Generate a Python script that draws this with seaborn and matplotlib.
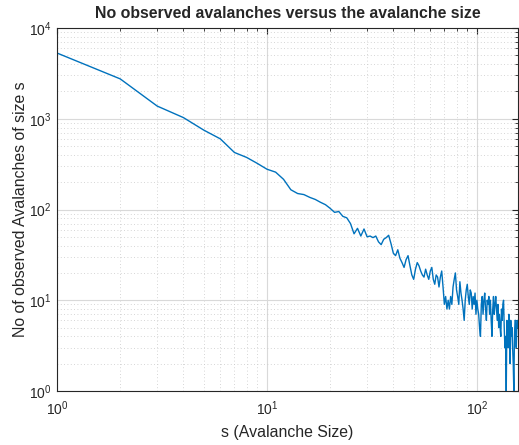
import numpy as np
import pandas as pd
import matplotlib
matplotlib.use("Agg")
import matplotlib.pyplot as plt
import seaborn as sns

# avalanche sizes and observed counts
sizes = list(range(1, 158))
counts = [
    5300, 2750, 1380, 1030, 750, 600, 425, 375, 322, 278,
    258, 215, 165, 150, 146, 136, 129, 120, 113, 103,
    93, 95, 84, 81, 70, 54, 62, 51, 61, 50,
    51, 49, 51, 44, 41, 47, 49, 52, 42, 33,
    31, 36, 29, 26, 23, 28, 31, 24, 19, 17,
    22, 26, 24, 21, 19, 18, 22, 19, 17, 21,
    23, 17, 15, 19, 18, 14, 18, 21, 14, 9,
    11, 8, 10, 8, 11, 9, 14, 17, 20, 13,
    11, 9, 16, 12, 10, 8, 6, 10, 13, 15,
    11, 9, 13, 12, 8, 11, 9, 12, 7, 10,
    8, 7, 5, 4, 9, 11, 7, 10, 12, 8,
    6, 10, 9, 11, 7, 10, 6, 4, 8, 11,
    7, 9, 11, 8, 6, 9, 5, 7, 5, 4,
    8, 6, 9, 10, 5, 3, 4, 1, 6, 4,
    3, 7, 5, 2, 6, 4, 5, 3, 2, 1,
    4, 6, 6, 3, 5, 6, 5,
]

df = pd.DataFrame({"s": sizes, "count": counts})

sns.set_style("white")
plt.rcParams["font.family"] = ["Liberation Sans", "DejaVu Sans"]

fig = plt.figure(figsize=(5.19, 4.45), dpi=100)
ax = fig.add_axes([57 / 519, 1 - 391 / 445, 461 / 519, 363 / 445])

sns.lineplot(data=df, x="s", y="count", color="#0072BD", linewidth=1.0, ax=ax)

ax.set_xscale("log")
ax.set_yscale("log")
ax.set_xlim(1, 157)
ax.set_ylim(1, 1e4)
ax.set_yticks([1, 10, 100, 1000, 10000])
ax.set_xticks([1, 10, 100])

ax.set_title("No observed avalanches versus the avalanche size",
             fontsize=11.4, fontweight="bold", pad=7)
ax.set_xlabel("s (Avalanche Size)", fontsize=11.4, color="#262626", labelpad=5)
ax.set_ylabel("No of observed Avalanches of size s", fontsize=11.4,
              color="#262626", labelpad=0.5)

# MATLAB-like grid and ticks
ax.grid(True, which="major", color="#d9d9d9", linewidth=0.8, linestyle="-")
ax.grid(True, which="minor", color="#c8c8c8", linewidth=0.6, linestyle=(0, (1, 3)))
ax.tick_params(which="both", direction="in", top=True, right=True,
               colors="#262626", labelsize=10)
ax.tick_params(which="major", length=4)
ax.tick_params(which="minor", length=2)
ax.tick_params(axis="x", which="major", pad=6)
ax.tick_params(axis="y", which="major", pad=4)
for sp in ax.spines.values():
    sp.set_color("#262626")
    sp.set_linewidth(0.8)
ax.set_axisbelow(True)

fig.savefig("out.png", dpi=100)
